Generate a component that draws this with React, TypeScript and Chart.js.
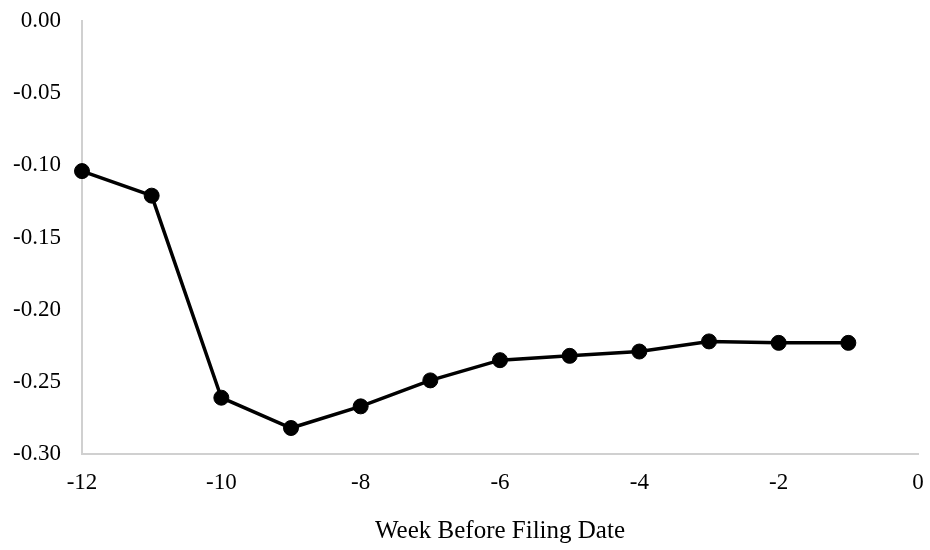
import React, { useEffect, useRef } from "react";
import { Chart, registerables } from "chart.js";

Chart.register(...registerables);

const weeks = [-12, -11, -10, -9, -8, -7, -6, -5, -4, -3, -2, -1];
const values = [-0.104, -0.121, -0.261, -0.282, -0.267, -0.249, -0.235, -0.232, -0.229, -0.222, -0.223, -0.223];
const xTitle = "Week Before Filing Date";
const yMin = -0.3;
const yMax = 0;
const yStep = 0.05;
const xMin = -12;
const xMax = 0;
const xStep = 2;

export default function App() {
  const ref = useRef<HTMLCanvasElement | null>(null);

  useEffect(() => {
    if (!ref.current) return;
    const family = "'Liberation Serif', 'Times New Roman', serif";
    const font = { family, size: 23 };
    const titleFont = { family, size: 25 };
    const chart = new Chart(ref.current, {
      type: "line",
      data: {
        datasets: [
          {
            data: weeks.map((w, i) => ({ x: w, y: values[i] })),
            borderColor: "#000000",
            backgroundColor: "#000000",
            borderWidth: 3.5,
            pointRadius: 7.5,
            pointBorderWidth: 1,
            pointBackgroundColor: "#000000",
            pointBorderColor: "#000000",
            tension: 0,
            clip: false as any,
          },
        ],
      },
      options: {
        animation: false,
        responsive: false,
        maintainAspectRatio: false,
        layout: { padding: { left: 0, right: 12, top: 21, bottom: 0 } },
        plugins: { legend: { display: false }, tooltip: { enabled: false } },
        scales: {
          x: {
            type: "linear",
            min: xMin,
            max: xMax,
            grid: { display: false, drawTicks: false },
            border: { display: true, color: "#d0d0d0", width: 2 },
            ticks: { stepSize: xStep, color: "#000", font, padding: 15, maxRotation: 0 },
            title: { display: true, text: xTitle, color: "#000", font: titleFont, padding: { top: 0, bottom: 4 } },
            afterFit: (s: any) => {
              s.height = 96;
              s.paddingLeft = 0;
              s.paddingRight = 0;
            },
          },
          y: {
            min: yMin,
            max: yMax,
            grid: { display: false, drawTicks: false },
            border: { display: true, color: "#d0d0d0", width: 2 },
            ticks: {
              stepSize: yStep,
              color: "#000",
              font,
              padding: 21,
              callback: (v: any) => Number(v).toFixed(2),
            },
            afterFit: (s: any) => {
              s.width = 82;
              s.paddingTop = 0;
              s.paddingBottom = 0;
            },
          },
        },
      },
    });
    return () => chart.destroy();
  }, []);

  return (
    <div style={{ position: "fixed", left: 0, top: 0, width: 930, height: 550, background: "#fff" }}>
      <canvas ref={ref} width={930} height={550} style={{ width: 930, height: 550 }} />
    </div>
  );
}
